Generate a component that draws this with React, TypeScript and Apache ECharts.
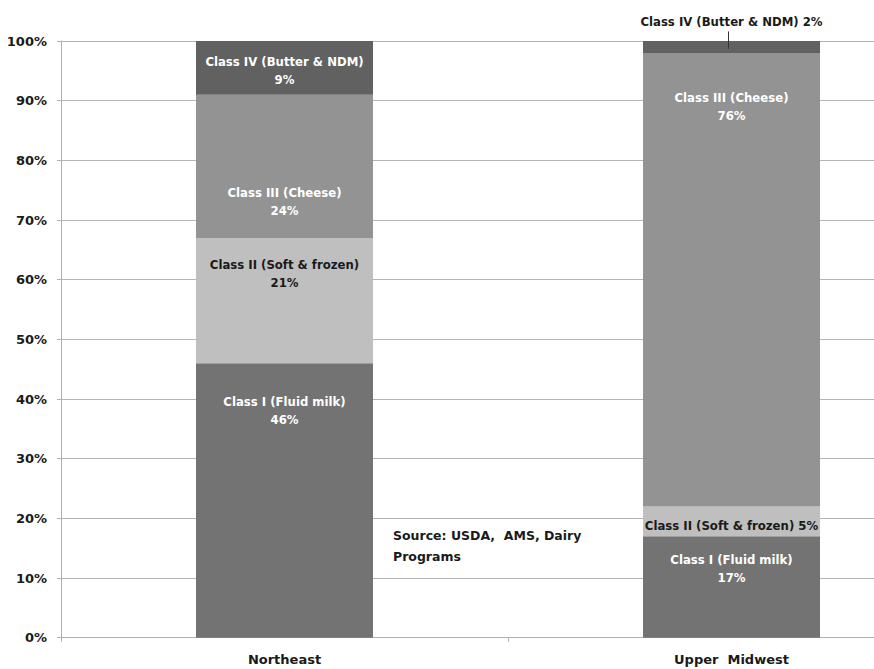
import React, { useEffect, useRef } from "react";
import * as echarts from "echarts";

const categories = ["Northeast", "Upper  Midwest"];
const classNames = [
  "Class I (Fluid milk)",
  "Class II (Soft & frozen)",
  "Class III (Cheese)",
  "Class IV (Butter & NDM)",
];
const classI = [46, 17];
const classII = [21, 5];
const classIII = [24, 76];
const classIV = [9, 2];
const sourceNote = "Source: USDA,  AMS, Dairy\nPrograms";

const seriesValues = [classI, classII, classIII, classIV];
const colors = ["#737373", "#bfbfbf", "#939393", "#616161"];
// label tweaks per [series][category]: [dy, singleLine, color]
const labelTweaks: [number, boolean, string][][] = [
  [[-90, false, "#ffffff"], [-18, false, "#ffffff"]],
  [[-27, false, "#1a1a1a"], [4, true, "#1a1a1a"]],
  [[35, false, "#ffffff"], [-173, false, "#ffffff"]],
  [[3, false, "#ffffff"], [-25, true, "#1a1a1a"]],
];

const labelFont = '"DejaVu Sans Condensed", "Liberation Sans Narrow", "Roboto Condensed", sans-serif';
const axisFont = '"DejaVu Sans", Verdana, sans-serif';

export default function App() {
  const ref = useRef<HTMLDivElement>(null);
  useEffect(() => {
    if (!ref.current) return;
    const chart = echarts.init(ref.current, null, { renderer: "svg" });
    const series = seriesValues.map((vals, si) => ({
      name: classNames[si],
      type: "bar",
      stack: "total",
      barWidth: 177,
      itemStyle: { color: colors[si] },
      data: vals.map((v, ci) => {
        const [dy, single, col] = labelTweaks[si][ci];
        return {
          value: v,
          label: {
            show: true,
            position: "inside",
            offset: [0, dy],
            color: col,
            formatter: single
              ? `${classNames[si]} ${v}%`
              : `${classNames[si]}\n${v}%`,
          },
        };
      }),
      label: {
        show: true,
        fontFamily: labelFont,
        fontWeight: "bold",
        fontSize: 13,
        lineHeight: 18,
        align: "center",
      },
    }));
    chart.setOption({
      animation: false,
      backgroundColor: "#ffffff",
      grid: {
        left: 61,
        top: 41,
        width: 894,
        height: 596.7,
        containLabel: false,
        outerBoundsMode: "none",
      },
      xAxis: {
        type: "category",
        data: categories,
        axisLine: { lineStyle: { color: "#b0b0b0", width: 1 } },
        axisTick: { show: true, length: 4, lineStyle: { color: "#b0b0b0" } },
        axisLabel: {
          margin: 15,
          fontFamily: axisFont,
          fontWeight: "bold",
          fontSize: 13,
          color: "#1a1a1a",
        },
      },
      yAxis: {
        type: "value",
        min: 0,
        max: 100,
        interval: 10,
        axisLine: { show: true, lineStyle: { color: "#b0b0b0", width: 1 } },
        axisTick: { show: true, length: 4, lineStyle: { color: "#b0b0b0" } },
        splitLine: { lineStyle: { color: "#b4b4b4", width: 1 } },
        axisLabel: {
          margin: 14,
          formatter: "{value}%",
          fontFamily: axisFont,
          fontWeight: "bold",
          fontSize: 13,
          color: "#1a1a1a",
        },
      },
      series,
    });
    const x = chart.convertToPixel({ xAxisIndex: 0 }, 1) as number;
    const yTop = chart.convertToPixel({ yAxisIndex: 0 }, 101.6) as number;
    const yBot = chart.convertToPixel({ yAxisIndex: 0 }, 98.7) as number;
    chart.setOption({
      graphic: [
        {
          type: "line",
          shape: { x1: x - 3, y1: yTop, x2: x - 3, y2: yBot },
          style: { stroke: "#333333", lineWidth: 1 },
          z: 100,
        },
        {
          type: "text",
          left: 393,
          top: 525,
          style: {
            text: sourceNote,
            fontFamily: axisFont,
            fontWeight: "bold",
            fontSize: 12.5,
            lineHeight: 21,
            fill: "#1a1a1a",
          },
        },
      ],
    });
    return () => chart.dispose();
  }, []);
  return (
    <div
      ref={ref}
      style={{ position: "fixed", left: 0, top: 0, width: 874, height: 669 }}
    />
  );
}
